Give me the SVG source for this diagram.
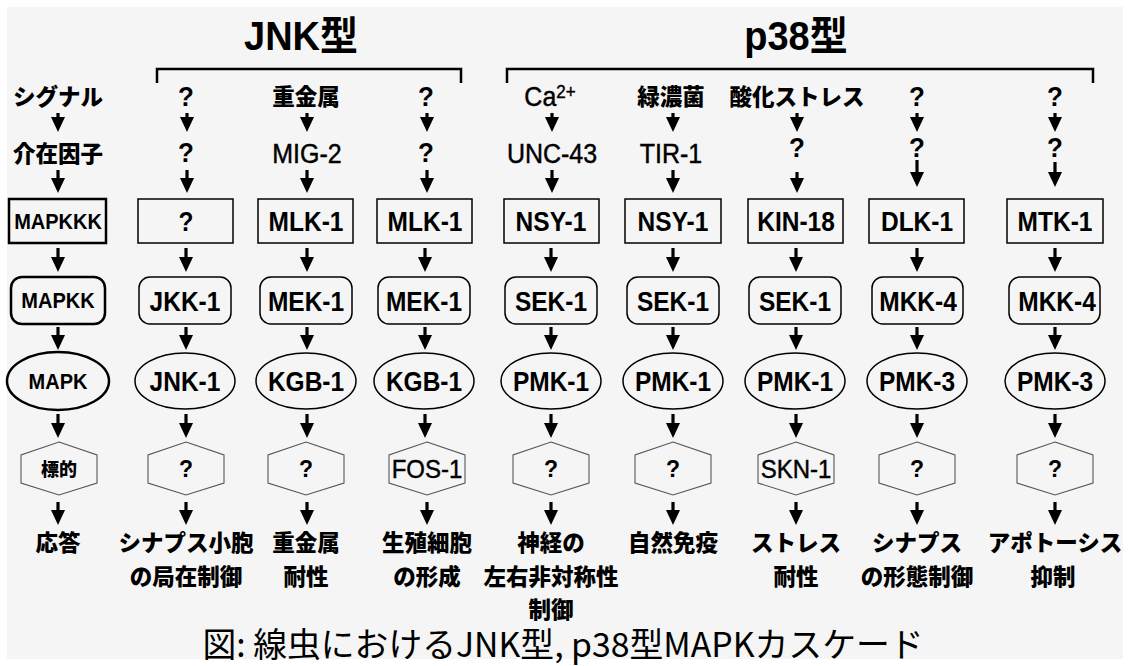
<svg xmlns="http://www.w3.org/2000/svg" width="1130" height="666" viewBox="0 0 1130 666">
<defs>
<marker id="ah" markerUnits="userSpaceOnUse" markerWidth="18" markerHeight="15" refX="3" refY="7.5" orient="auto" viewBox="0 0 18 15">
<path d="M0,0.5 L15,7.5 L0,14.5 Z" fill="#000"/>
</marker>
<style>
.bg{fill:#f5f5f5}
.box{fill:none;stroke:#000;stroke-width:1.5}
.lbox{fill:none;stroke:#000;stroke-width:2.5}
.hex{fill:none;stroke:#555;stroke-width:1.1}
.con line{stroke:#000;stroke-width:3.2;marker-end:url(#ah)}
.br{fill:none;stroke:#000;stroke-width:2.5}
text{text-anchor:middle;fill:#000}
.t{font-family:"Liberation Sans",Arial,sans-serif;font-weight:bold;font-size:24.5px}
.tl{font-family:"Liberation Sans",Arial,sans-serif;font-weight:bold;font-size:20px}
.r{font-family:"Liberation Sans",Arial,sans-serif;font-size:25px;stroke:#000;stroke-width:0.4}
.q{font-family:"Liberation Sans",Arial,sans-serif;font-weight:bold;font-size:26px}
.jp{font-family:"Noto Sans CJK JP",sans-serif;font-weight:900;font-size:22.5px}
.title{font-family:"Liberation Sans","Noto Sans CJK JP",sans-serif;font-weight:bold;font-size:38px}
.cap{font-family:"Noto Sans CJK JP",sans-serif;font-size:33.8px}
</style>
</defs>
<rect width="1130" height="666" fill="#fff"/>
<rect class="bg" x="7" y="7" width="1116" height="652"/>

<g id="titles">
<text class="title" transform="translate(301,50) scale(1,1.05)">JNK型</text>
<text class="title" transform="translate(796,50) scale(1,1.05)">p38型</text>
<path class="br" d="M157,83 V69 H461 V83"/>
<path class="br" d="M507,83 V69 H1093 V83"/>
</g>

<g id="row-signal">
<text class="jp" x="58" y="105">シグナル</text>
<text class="q" transform="translate(186,106) scale(1,1.08)">?</text>
<text class="jp" x="306" y="105">重金属</text>
<text class="q" transform="translate(426,106) scale(1,1.08)">?</text>
<text class="r" transform="translate(550,106) scale(1,1.1)">Ca<tspan font-size="17" dy="-7">2+</tspan></text>
<text class="jp" x="671" y="105">緑濃菌</text>
<text class="jp" x="797" y="105">酸化ストレス</text>
<text class="q" transform="translate(917,106) scale(1,1.08)">?</text>
<text class="q" transform="translate(1055,106) scale(1,1.08)">?</text>
</g>

<g id="row-mediator">
<text class="jp" x="58" y="162">介在因子</text>
<text class="q" transform="translate(186,162) scale(1,1.08)">?</text>
<text class="r" transform="translate(307,163) scale(1,1.13)">MIG-2</text>
<text class="q" transform="translate(426,162) scale(1,1.08)">?</text>
<text class="r" transform="translate(552,163) scale(1,1.13)">UNC-43</text>
<text class="r" transform="translate(671,163) scale(1,1.13)">TIR-1</text>
<text class="q" transform="translate(797,157) scale(1,1.08)">?</text>
<text class="q" transform="translate(917,157) scale(1,1.08)">?</text>
<text class="q" transform="translate(1055,157) scale(1,1.08)">?</text>
</g>

<g id="n-mapkkk"><rect class="lbox" x="9" y="199" width="97" height="44"/><text class="tl" transform="translate(58,229) scale(1,1.13)">MAPKKK</text></g>
<g id="n-c1-kkk"><rect class="box" x="138" y="199" width="95" height="44"/><text class="t" transform="translate(186,231) scale(1,1.13)">?</text></g>
<g id="n-c2-kkk"><rect class="box" x="258" y="199" width="95" height="44"/><text class="t" transform="translate(306,231) scale(1,1.13)">MLK-1</text></g>
<g id="n-c3-kkk"><rect class="box" x="377" y="199" width="95" height="44"/><text class="t" transform="translate(425,231) scale(1,1.13)">MLK-1</text></g>
<g id="n-c4-kkk"><rect class="box" x="504" y="199" width="95" height="44"/><text class="t" transform="translate(551,231) scale(1,1.13)">NSY-1</text></g>
<g id="n-c5-kkk"><rect class="box" x="625" y="199" width="96" height="44"/><text class="t" transform="translate(673,231) scale(1,1.13)">NSY-1</text></g>
<g id="n-c6-kkk"><rect class="box" x="748" y="199" width="95" height="44"/><text class="t" transform="translate(796,231) scale(1,1.13)">KIN-18</text></g>
<g id="n-c7-kkk"><rect class="box" x="869" y="199" width="95" height="44"/><text class="t" transform="translate(917,231) scale(1,1.13)">DLK-1</text></g>
<g id="n-c8-kkk"><rect class="box" x="1007" y="199" width="96" height="44"/><text class="t" transform="translate(1055,231) scale(1,1.13)">MTK-1</text></g>

<g id="n-mapkk"><rect class="lbox" x="11" y="277" width="94" height="47" rx="11"/><text class="tl" transform="translate(58,308) scale(1,1.13)">MAPKK</text></g>
<g id="n-c1-kk"><rect class="box" x="139" y="277" width="92" height="47" rx="11"/><text class="t" transform="translate(185,311) scale(1,1.13)">JKK-1</text></g>
<g id="n-c2-kk"><rect class="box" x="260" y="277" width="92" height="47" rx="11"/><text class="t" transform="translate(306,311) scale(1,1.13)">MEK-1</text></g>
<g id="n-c3-kk"><rect class="box" x="378" y="277" width="92" height="47" rx="11"/><text class="t" transform="translate(424,311) scale(1,1.13)">MEK-1</text></g>
<g id="n-c4-kk"><rect class="box" x="505" y="277" width="92" height="47" rx="11"/><text class="t" transform="translate(551,311) scale(1,1.13)">SEK-1</text></g>
<g id="n-c5-kk"><rect class="box" x="627" y="277" width="92" height="47" rx="11"/><text class="t" transform="translate(673,311) scale(1,1.13)">SEK-1</text></g>
<g id="n-c6-kk"><rect class="box" x="749" y="277" width="92" height="47" rx="11"/><text class="t" transform="translate(795,311) scale(1,1.13)">SEK-1</text></g>
<g id="n-c7-kk"><rect class="box" x="872" y="277" width="91" height="47" rx="11"/><text class="t" transform="translate(918,311) scale(1,1.13)">MKK-4</text></g>
<g id="n-c8-kk"><rect class="box" x="1009" y="277" width="91" height="47" rx="11"/><text class="t" transform="translate(1057,311) scale(1,1.13)">MKK-4</text></g>

<g id="n-mapk"><ellipse class="lbox" cx="58" cy="381" rx="51" ry="29"/><text class="tl" transform="translate(58,389) scale(1,1.13)">MAPK</text></g>
<g id="n-c1-k"><ellipse class="box" cx="185" cy="381" rx="50" ry="28"/><text class="t" transform="translate(185,391) scale(1,1.13)">JNK-1</text></g>
<g id="n-c2-k"><ellipse class="box" cx="306" cy="381" rx="50" ry="28"/><text class="t" transform="translate(306,391) scale(1,1.13)">KGB-1</text></g>
<g id="n-c3-k"><ellipse class="box" cx="424" cy="381" rx="50" ry="28"/><text class="t" transform="translate(424,391) scale(1,1.13)">KGB-1</text></g>
<g id="n-c4-k"><ellipse class="box" cx="551" cy="381" rx="50" ry="28"/><text class="t" transform="translate(551,391) scale(1,1.13)">PMK-1</text></g>
<g id="n-c5-k"><ellipse class="box" cx="673" cy="381" rx="50" ry="28"/><text class="t" transform="translate(673,391) scale(1,1.13)">PMK-1</text></g>
<g id="n-c6-k"><ellipse class="box" cx="795" cy="381" rx="50" ry="28"/><text class="t" transform="translate(795,391) scale(1,1.13)">PMK-1</text></g>
<g id="n-c7-k"><ellipse class="box" cx="917" cy="381" rx="50" ry="28"/><text class="t" transform="translate(917,391) scale(1,1.13)">PMK-3</text></g>
<g id="n-c8-k"><ellipse class="box" cx="1055" cy="381" rx="50" ry="28"/><text class="t" transform="translate(1055,391) scale(1,1.13)">PMK-3</text></g>

<g id="n-target"><path class="hex" d="M59,442 L97,455 L97,483 L59,495 L21,483 L21,455 Z"/><text class="jp" style="font-size:18px" x="59" y="476">標的</text></g>
<g id="n-c1-t"><path class="hex" d="M186,442 L224,455 L224,483 L186,495 L148,483 L148,455 Z"/><text class="q" style="font-size:23px" transform="translate(186,477) scale(1,1.05)">?</text></g>
<g id="n-c2-t"><path class="hex" d="M306,442 L344,455 L344,483 L306,495 L268,483 L268,455 Z"/><text class="q" style="font-size:23px" transform="translate(306,477) scale(1,1.05)">?</text></g>
<g id="n-c3-t"><path class="hex" d="M427,442 L465,455 L465,483 L427,495 L389,483 L389,455 Z"/><text class="r" style="font-size:24px" transform="translate(427,478) scale(1,1.08)">FOS-1</text></g>
<g id="n-c4-t"><path class="hex" d="M551,442 L589,455 L589,483 L551,495 L513,483 L513,455 Z"/><text class="q" style="font-size:23px" transform="translate(551,477) scale(1,1.05)">?</text></g>
<g id="n-c5-t"><path class="hex" d="M673,442 L711,455 L711,483 L673,495 L635,483 L635,455 Z"/><text class="q" style="font-size:23px" transform="translate(673,477) scale(1,1.05)">?</text></g>
<g id="n-c6-t"><path class="hex" d="M796,442 L834,455 L834,483 L796,495 L758,483 L758,455 Z"/><text class="r" style="font-size:24px" transform="translate(796,478) scale(1,1.08)">SKN-1</text></g>
<g id="n-c7-t"><path class="hex" d="M917,442 L955,455 L955,483 L917,495 L879,483 L879,455 Z"/><text class="q" style="font-size:23px" transform="translate(917,477) scale(1,1.05)">?</text></g>
<g id="n-c8-t"><path class="hex" d="M1055,442 L1093,455 L1093,483 L1055,495 L1017,483 L1017,455 Z"/><text class="q" style="font-size:23px" transform="translate(1055,477) scale(1,1.05)">?</text></g>

<g id="row-response">
<text class="jp" x="58" y="551">応答</text>
<text class="jp" x="186" y="551">シナプス小胞</text>
<text class="jp" x="186" y="585">の局在制御</text>
<text class="jp" x="306" y="551">重金属</text>
<text class="jp" x="306" y="585">耐性</text>
<text class="jp" x="427" y="551">生殖細胞</text>
<text class="jp" x="427" y="585">の形成</text>
<text class="jp" x="551" y="551">神経の</text>
<text class="jp" x="551" y="585">左右非対称性</text>
<text class="jp" x="551" y="618">制御</text>
<text class="jp" x="673" y="551">自然免疫</text>
<text class="jp" x="796" y="551">ストレス</text>
<text class="jp" x="796" y="585">耐性</text>
<text class="jp" x="917" y="551">シナプス</text>
<text class="jp" x="917" y="585">の形態制御</text>
<text class="jp" x="1055" y="551">アポトーシス</text>
<text class="jp" x="1053" y="585">抑制</text>
</g>

<g id="connectors" class="con">
<line x1="58" y1="113" x2="58" y2="120"/>
<line x1="58" y1="170" x2="58" y2="181"/>
<line x1="58" y1="248" x2="58" y2="260"/>
<line x1="58" y1="327" x2="58" y2="338"/>
<line x1="58" y1="414" x2="58" y2="426"/>
<line x1="58" y1="502" x2="58" y2="513"/>

<line x1="187" y1="113" x2="187" y2="120"/>
<line x1="187" y1="170" x2="187" y2="181"/>
<line x1="186" y1="248" x2="186" y2="260"/>
<line x1="186" y1="327" x2="186" y2="338"/>
<line x1="186" y1="414" x2="186" y2="426"/>
<line x1="186" y1="502" x2="186" y2="513"/>

<line x1="307" y1="113" x2="307" y2="120"/>
<line x1="307" y1="170" x2="307" y2="181"/>
<line x1="307" y1="248" x2="307" y2="260"/>
<line x1="307" y1="327" x2="307" y2="338"/>
<line x1="307" y1="414" x2="307" y2="426"/>
<line x1="307" y1="502" x2="307" y2="513"/>

<line x1="427" y1="113" x2="427" y2="120"/>
<line x1="427" y1="170" x2="427" y2="181"/>
<line x1="425" y1="248" x2="425" y2="260"/>
<line x1="425" y1="327" x2="425" y2="338"/>
<line x1="425" y1="414" x2="425" y2="426"/>
<line x1="427" y1="502" x2="427" y2="513"/>

<line x1="552" y1="113" x2="552" y2="120"/>
<line x1="552" y1="170" x2="552" y2="181"/>
<line x1="551" y1="248" x2="551" y2="260"/>
<line x1="551" y1="327" x2="551" y2="338"/>
<line x1="551" y1="414" x2="551" y2="426"/>
<line x1="551" y1="502" x2="551" y2="513"/>

<line x1="673" y1="113" x2="673" y2="120"/>
<line x1="673" y1="170" x2="673" y2="181"/>
<line x1="673" y1="248" x2="673" y2="260"/>
<line x1="673" y1="327" x2="673" y2="338"/>
<line x1="673" y1="414" x2="673" y2="426"/>
<line x1="673" y1="502" x2="673" y2="513"/>

<line x1="797" y1="113" x2="797" y2="120"/>
<line x1="797" y1="172" x2="797" y2="181"/>
<line x1="796" y1="248" x2="796" y2="260"/>
<line x1="796" y1="327" x2="796" y2="338"/>
<line x1="796" y1="414" x2="796" y2="426"/>
<line x1="796" y1="502" x2="796" y2="513"/>

<line x1="917" y1="113" x2="917" y2="120"/>
<line x1="917" y1="160" x2="917" y2="175"/>
<line x1="917" y1="248" x2="917" y2="260"/>
<line x1="917" y1="327" x2="917" y2="338"/>
<line x1="917" y1="414" x2="917" y2="426"/>
<line x1="917" y1="502" x2="917" y2="513"/>

<line x1="1055" y1="113" x2="1055" y2="120"/>
<line x1="1055" y1="162" x2="1055" y2="175"/>
<line x1="1055" y1="248" x2="1055" y2="260"/>
<line x1="1055" y1="327" x2="1055" y2="338"/>
<line x1="1055" y1="414" x2="1055" y2="426"/>
<line x1="1055" y1="502" x2="1055" y2="513"/>
</g>

<text class="cap" x="563" y="657">図: 線虫におけるJNK型, p38型MAPKカスケード</text>
</svg>
